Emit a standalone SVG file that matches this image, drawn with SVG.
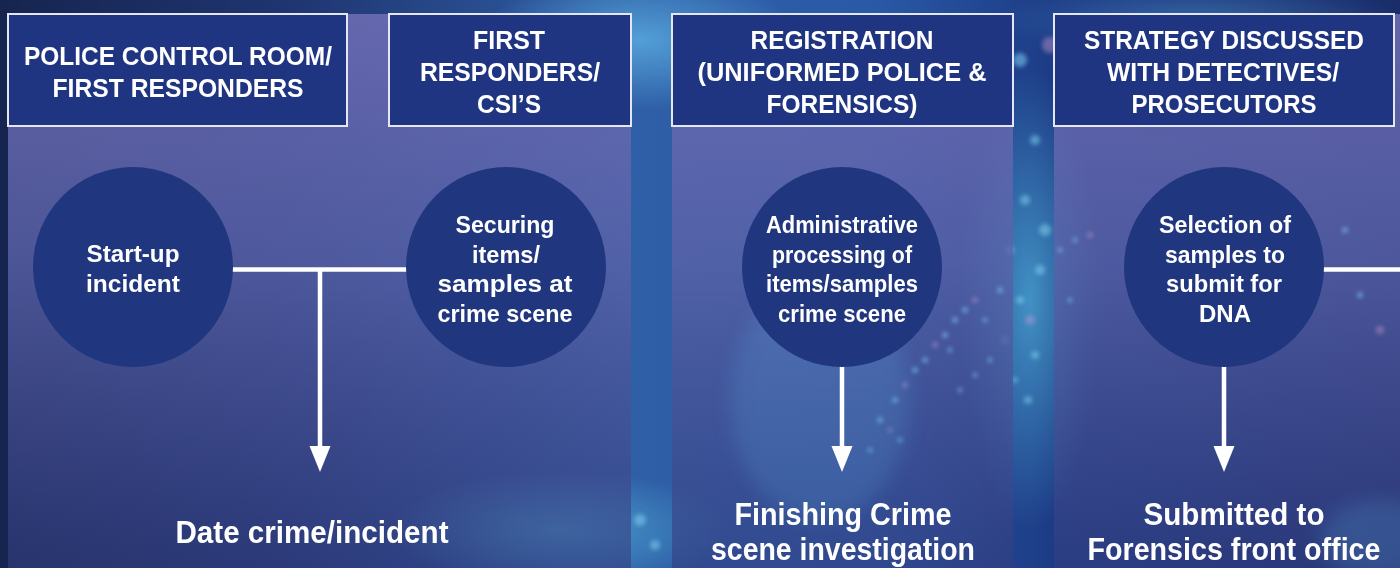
<svg xmlns="http://www.w3.org/2000/svg" width="1400" height="568" viewBox="0 0 1400 568">
<defs>
  <linearGradient id="bg" x1="0" y1="0" x2="1" y2="0">
    <stop offset="0" stop-color="#16254f"/>
    <stop offset="0.2" stop-color="#1f3470"/>
    <stop offset="0.45" stop-color="#2f5fa6"/>
    <stop offset="0.62" stop-color="#2a5aa6"/>
    <stop offset="0.75" stop-color="#1d3c86"/>
    <stop offset="1" stop-color="#1a2d6a"/>
  </linearGradient>
  <radialGradient id="glowA" cx="0.5" cy="0.5" r="0.5">
    <stop offset="0" stop-color="#5fb4e6" stop-opacity="0.75"/>
    <stop offset="1" stop-color="#5fb4e6" stop-opacity="0"/>
  </radialGradient>
  <radialGradient id="glowB" cx="0.5" cy="0.5" r="0.5">
    <stop offset="0" stop-color="#59c8ea" stop-opacity="0.6"/>
    <stop offset="1" stop-color="#59c8ea" stop-opacity="0"/>
  </radialGradient>
  <linearGradient id="ov" x1="0" y1="0" x2="0" y2="1">
    <stop offset="0" stop-color="#6f6db4" stop-opacity="0.88"/>
    <stop offset="0.45" stop-color="#5a62a8" stop-opacity="0.8"/>
    <stop offset="1" stop-color="#343e80" stop-opacity="0.6"/>
  </linearGradient>
  <filter id="blur" x="-50%" y="-50%" width="200%" height="200%"><feGaussianBlur stdDeviation="2"/></filter>
  <filter id="blur8" x="-50%" y="-50%" width="200%" height="200%"><feGaussianBlur stdDeviation="10"/></filter>
  <marker id="ah" markerUnits="userSpaceOnUse" markerWidth="27" markerHeight="22" viewBox="0 0 27 22" refX="2" refY="10.5" orient="auto">
    <path d="M0,0 L26,10.5 L0,21 Z" fill="#ffffff"/>
  </marker>
  <style>
    .hdr{fill:#203581;stroke:#e4e6f2;stroke-width:2}
    .circ{fill:#20367f}
    .ht{font-family:"Liberation Sans Narrow","Liberation Sans",Arial,sans-serif;font-weight:bold;font-size:25px;fill:#ffffff;text-anchor:middle}
    .ct{font-family:"Liberation Sans Narrow","Liberation Sans",Arial,sans-serif;font-weight:bold;font-size:24px;fill:#ffffff;text-anchor:middle}
    .bt{font-family:"Liberation Sans Narrow","Liberation Sans",Arial,sans-serif;font-weight:bold;font-size:31px;fill:#ffffff;text-anchor:middle}
    .ln{stroke:#ffffff;stroke-width:4.5;fill:none}
    .dot{fill:#7fd0f0;opacity:0.55}
    .pdot{fill:#c79ad0;opacity:0.45}
  </style>
</defs>

<!-- background -->
<rect x="0" y="0" width="1400" height="568" fill="url(#bg)"/>
<ellipse cx="640" cy="40" rx="160" ry="70" fill="url(#glowA)"/>
<ellipse cx="1030" cy="300" rx="70" ry="230" fill="url(#glowB)"/>
<ellipse cx="560" cy="530" rx="170" ry="60" fill="url(#glowB)"/>
<ellipse cx="1200" cy="20" rx="200" ry="40" fill="url(#glowA)" opacity="0.5"/>
<g filter="url(#blur)">
  <circle class="dot" cx="1020" cy="60" r="7"/><circle class="pdot" cx="1050" cy="45" r="8"/>
  <circle class="dot" cx="1000" cy="110" r="6"/><circle class="dot" cx="1035" cy="140" r="5"/>
  <circle class="dot" cx="1025" cy="200" r="5"/><circle class="dot" cx="1045" cy="230" r="6"/>
  <circle class="dot" cx="1010" cy="250" r="4"/><circle class="dot" cx="1040" cy="270" r="5"/>
  <circle class="dot" cx="1020" cy="300" r="4"/><circle class="pdot" cx="1030" cy="320" r="5"/>
  <circle class="dot" cx="1005" cy="340" r="4"/><circle class="dot" cx="1035" cy="355" r="4"/>
  <circle class="dot" cx="1015" cy="380" r="3"/><circle class="dot" cx="1028" cy="400" r="4"/>
  <circle class="dot" cx="640" cy="520" r="6"/><circle class="dot" cx="655" cy="545" r="5"/>
</g>

<!-- panels -->
<rect x="8" y="14" width="623" height="554" fill="url(#ov)"/>
<rect x="672" y="14" width="341" height="554" fill="url(#ov)"/>
<rect x="1054" y="14" width="346" height="554" fill="url(#ov)"/>

<!-- particle stream over panels -->
<g filter="url(#blur)">
  <circle class="dot" cx="880" cy="420" r="3"/><circle class="dot" cx="895" cy="400" r="3"/>
  <circle class="pdot" cx="905" cy="385" r="3"/><circle class="dot" cx="915" cy="370" r="3"/>
  <circle class="dot" cx="925" cy="360" r="3"/><circle class="pdot" cx="935" cy="345" r="3"/>
  <circle class="dot" cx="945" cy="335" r="3"/><circle class="dot" cx="955" cy="320" r="3"/>
  <circle class="dot" cx="965" cy="310" r="3"/><circle class="pdot" cx="975" cy="300" r="3"/>
  <circle class="dot" cx="985" cy="320" r="2.5"/><circle class="dot" cx="900" cy="440" r="2.5"/>
  <circle class="dot" cx="870" cy="450" r="2.5"/><circle class="pdot" cx="890" cy="430" r="2.5"/>
  <circle class="dot" cx="950" cy="350" r="2.5"/><circle class="dot" cx="1000" cy="290" r="3"/>
  <circle class="dot" cx="1060" cy="250" r="2.5"/><circle class="dot" cx="1075" cy="240" r="2.5"/>
  <circle class="pdot" cx="1090" cy="235" r="3"/><circle class="dot" cx="1070" cy="300" r="2.5"/>
  <circle class="dot" cx="960" cy="390" r="2.5"/><circle class="dot" cx="975" cy="375" r="2.5"/>
  <circle class="dot" cx="990" cy="360" r="2.5"/><circle class="pdot" cx="1380" cy="330" r="4"/>
  <circle class="dot" cx="1360" cy="295" r="3"/><circle class="dot" cx="1345" cy="230" r="3"/>
</g>
<ellipse cx="820" cy="400" rx="90" ry="120" fill="#5fb4e6" opacity="0.18" filter="url(#blur8)"/>
<ellipse cx="1380" cy="540" rx="60" ry="40" fill="#5fb4e6" opacity="0.2" filter="url(#blur8)"/>

<!-- connectors -->
<g id="connectors">
  <line class="ln" x1="232" y1="269.5" x2="407" y2="269.5"/>
  <line class="ln" x1="320" y1="269.5" x2="320" y2="448" marker-end="url(#ah)"/>
  <line class="ln" x1="842" y1="365" x2="842" y2="448" marker-end="url(#ah)"/>
  <line class="ln" x1="1224" y1="365" x2="1224" y2="448" marker-end="url(#ah)"/>
  <line class="ln" x1="1323" y1="269.5" x2="1400" y2="269.5"/>
</g>

<!-- headers -->
<g id="hdr1">
  <rect class="hdr" x="8" y="14" width="339" height="112"/>
  <text class="ht" x="178" y="65" textLength="308" lengthAdjust="spacingAndGlyphs">POLICE CONTROL ROOM/</text>
  <text class="ht" x="178" y="97" textLength="251" lengthAdjust="spacingAndGlyphs">FIRST RESPONDERS</text>
</g>
<g id="hdr2">
  <rect class="hdr" x="389" y="14" width="242" height="112"/>
  <text class="ht" x="509" y="49" textLength="72" lengthAdjust="spacingAndGlyphs">FIRST</text>
  <text class="ht" x="510" y="81" textLength="180" lengthAdjust="spacingAndGlyphs">RESPONDERS/</text>
  <text class="ht" x="509" y="113" textLength="64" lengthAdjust="spacingAndGlyphs">CSI’S</text>
</g>
<g id="hdr3">
  <rect class="hdr" x="672" y="14" width="341" height="112"/>
  <text class="ht" x="842" y="49" textLength="183" lengthAdjust="spacingAndGlyphs">REGISTRATION</text>
  <text class="ht" x="842" y="81" textLength="289" lengthAdjust="spacingAndGlyphs">(UNIFORMED POLICE &amp;</text>
  <text class="ht" x="842" y="113" textLength="151" lengthAdjust="spacingAndGlyphs">FORENSICS)</text>
</g>
<g id="hdr4">
  <rect class="hdr" x="1054" y="14" width="340" height="112"/>
  <text class="ht" x="1224" y="49" textLength="280" lengthAdjust="spacingAndGlyphs">STRATEGY DISCUSSED</text>
  <text class="ht" x="1223" y="81" textLength="232" lengthAdjust="spacingAndGlyphs">WITH DETECTIVES/</text>
  <text class="ht" x="1224" y="113" textLength="185" lengthAdjust="spacingAndGlyphs">PROSECUTORS</text>
</g>

<!-- circles -->
<g id="c1">
  <circle class="circ" cx="133" cy="267" r="100"/>
  <text class="ct" x="133" y="262" textLength="93" lengthAdjust="spacingAndGlyphs">Start-up</text>
  <text class="ct" x="133" y="292" textLength="94" lengthAdjust="spacingAndGlyphs">incident</text>
</g>
<g id="c2">
  <circle class="circ" cx="506" cy="267" r="100"/>
  <text class="ct" x="505" y="233" textLength="99" lengthAdjust="spacingAndGlyphs">Securing</text>
  <text class="ct" x="506" y="263" textLength="68" lengthAdjust="spacingAndGlyphs">items/</text>
  <text class="ct" x="505" y="292" textLength="135" lengthAdjust="spacingAndGlyphs">samples at</text>
  <text class="ct" x="505" y="322" textLength="135" lengthAdjust="spacingAndGlyphs">crime scene</text>
</g>
<g id="c3">
  <circle class="circ" cx="842" cy="267" r="100"/>
  <text class="ct" x="842" y="233" textLength="152" lengthAdjust="spacingAndGlyphs">Administrative</text>
  <text class="ct" x="842" y="263" textLength="140" lengthAdjust="spacingAndGlyphs">processing of</text>
  <text class="ct" x="842" y="292" textLength="152" lengthAdjust="spacingAndGlyphs">items/samples</text>
  <text class="ct" x="842" y="322" textLength="128" lengthAdjust="spacingAndGlyphs">crime scene</text>
</g>
<g id="c4">
  <circle class="circ" cx="1224" cy="267" r="100"/>
  <text class="ct" x="1225" y="233" textLength="132" lengthAdjust="spacingAndGlyphs">Selection of</text>
  <text class="ct" x="1225" y="263" textLength="120" lengthAdjust="spacingAndGlyphs">samples to</text>
  <text class="ct" x="1224" y="292" textLength="116" lengthAdjust="spacingAndGlyphs">submit for</text>
  <text class="ct" x="1225" y="322" textLength="52" lengthAdjust="spacingAndGlyphs">DNA</text>
</g>

<!-- outcomes -->
<g id="o1">
  <text class="bt" x="312" y="543" textLength="273" lengthAdjust="spacingAndGlyphs">Date crime/incident</text>
</g>
<g id="o2">
  <text class="bt" x="843" y="525" textLength="217" lengthAdjust="spacingAndGlyphs">Finishing Crime</text>
  <text class="bt" x="843" y="560" textLength="264" lengthAdjust="spacingAndGlyphs">scene investigation</text>
</g>
<g id="o3">
  <text class="bt" x="1234" y="525" textLength="181" lengthAdjust="spacingAndGlyphs">Submitted to</text>
  <text class="bt" x="1234" y="560" textLength="293" lengthAdjust="spacingAndGlyphs">Forensics front office</text>
</g>
</svg>
